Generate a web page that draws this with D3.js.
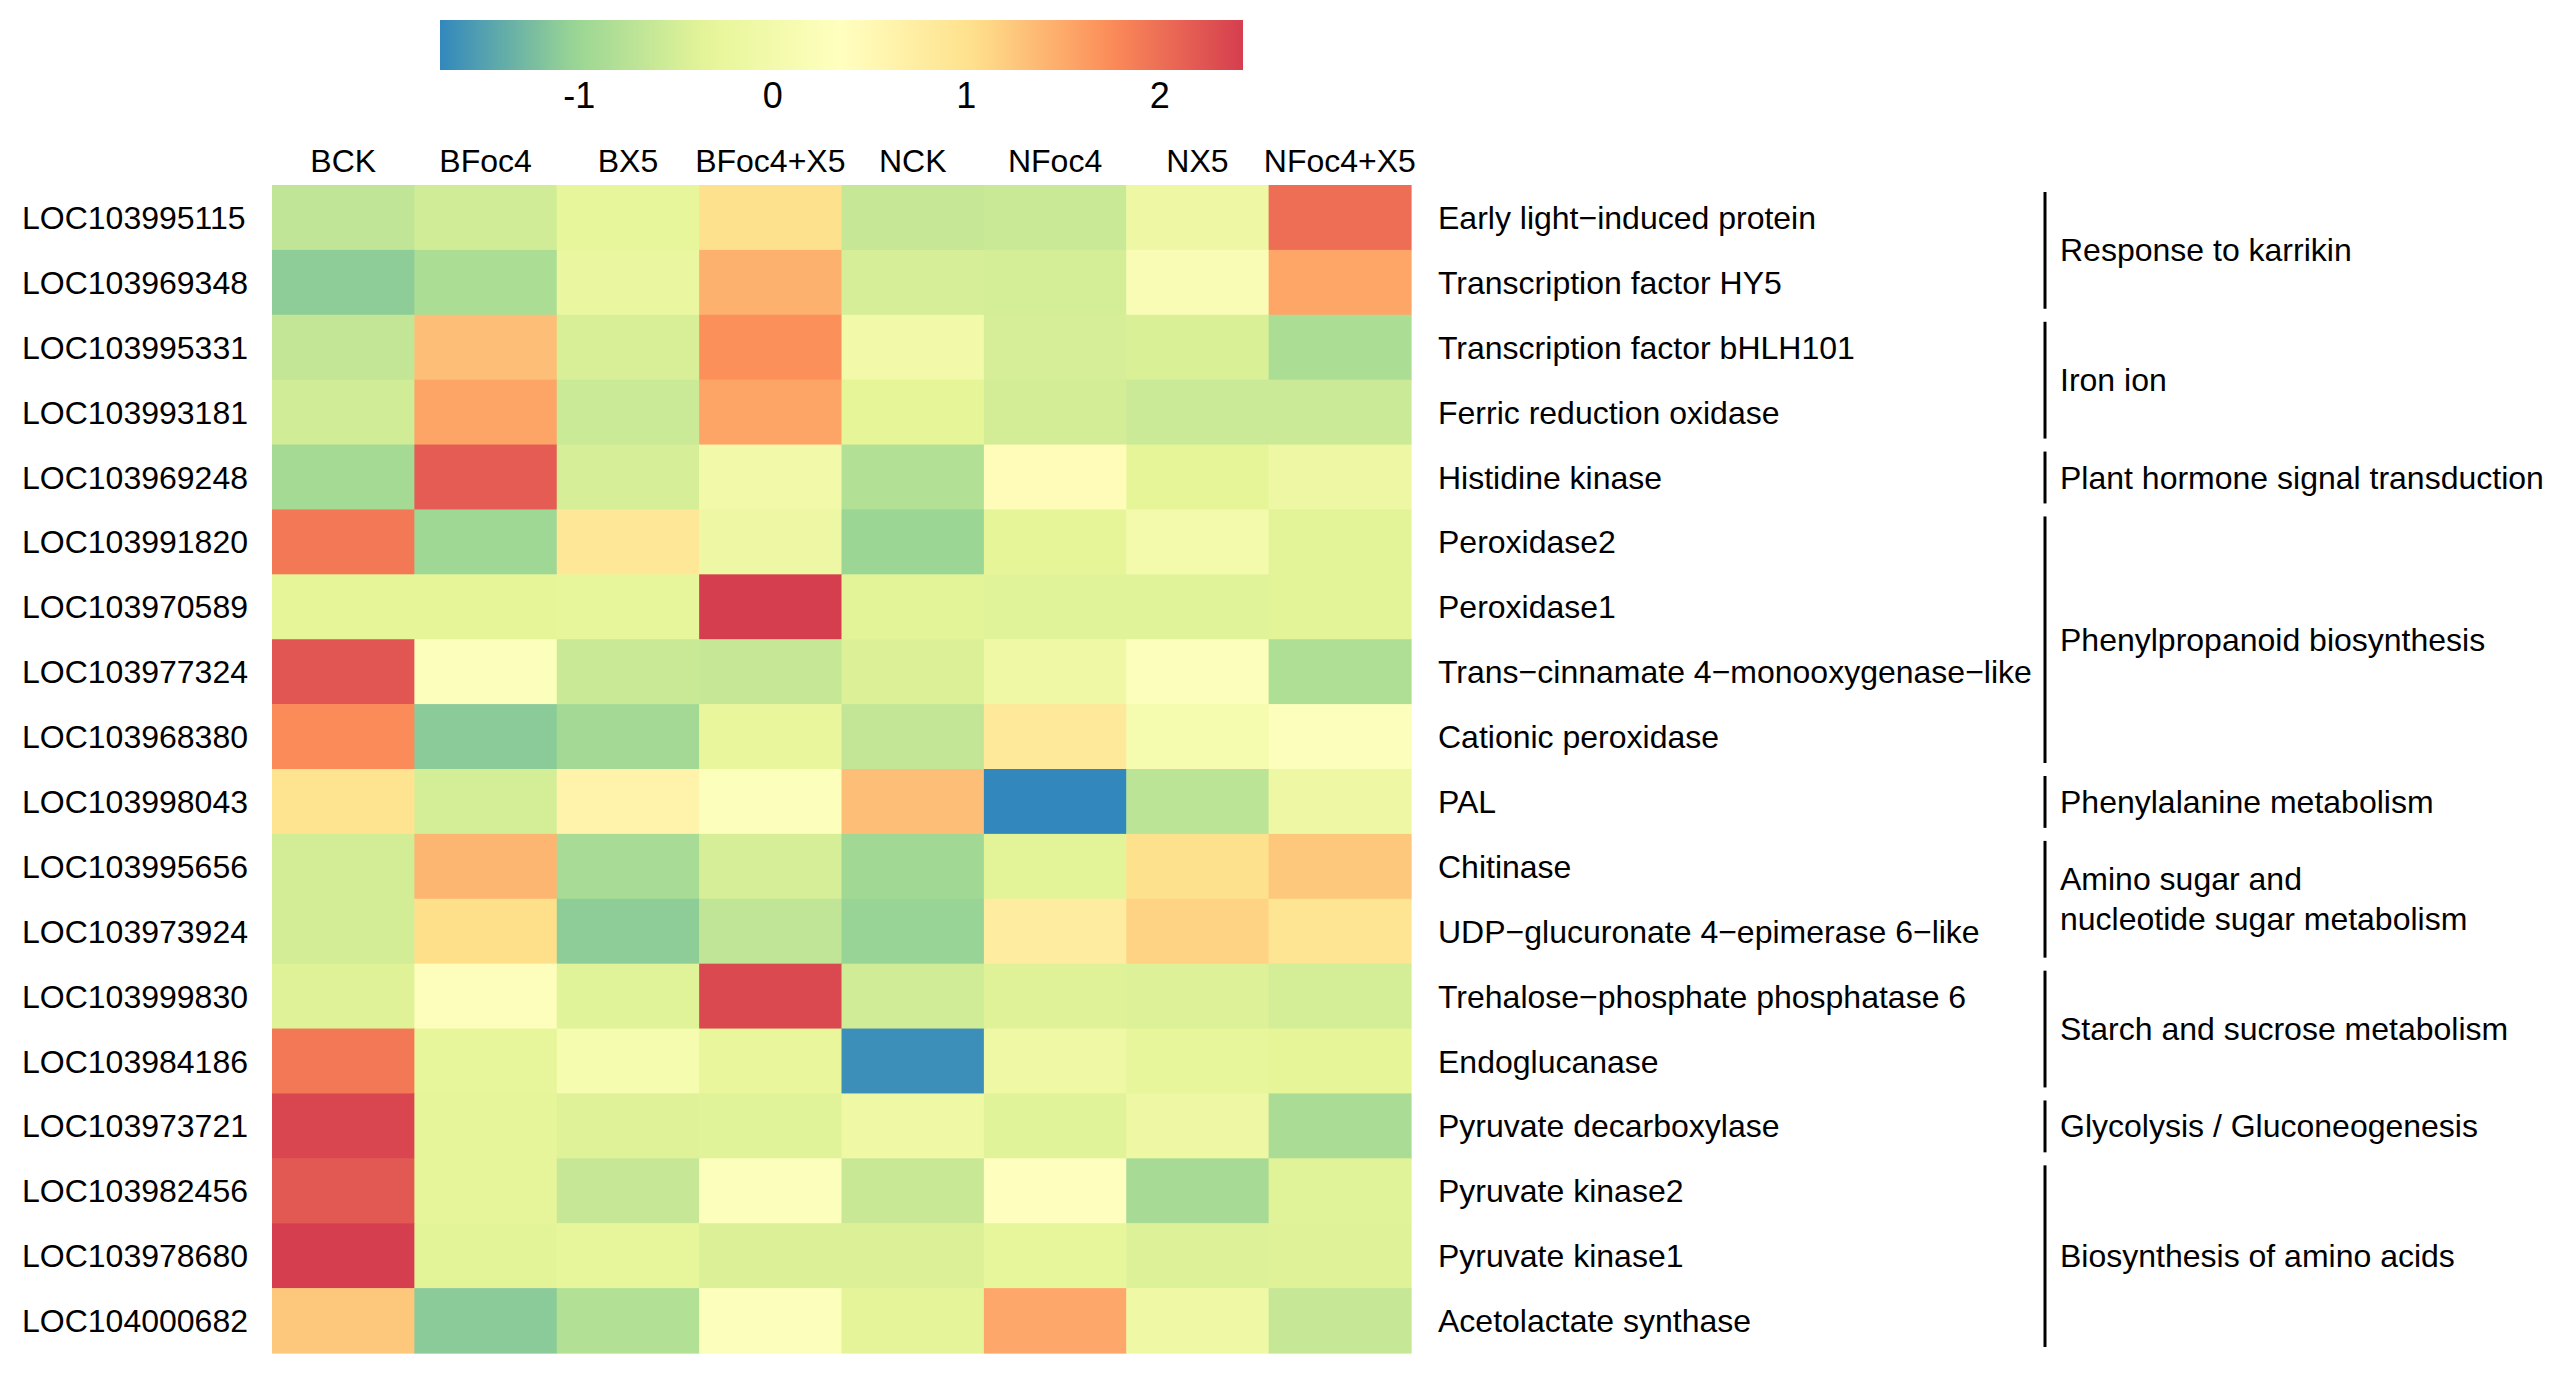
<!DOCTYPE html>
<html>
<head>
<meta charset="utf-8">
<script src="https://cdn.jsdelivr.net/npm/d3@7"></script>
<style>
  html, body { margin: 0; padding: 0; background: #ffffff; }
  svg { display: block; }
  text { font-family: "Liberation Sans", Arial, sans-serif; fill: #000; }
</style>
</head>
<body>
<script>
// ---------------- data ----------------
const conditions = ["BCK", "BFoc4", "BX5", "BFoc4+X5", "NCK", "NFoc4", "NX5", "NFoc4+X5"];

const geneIds = [
  "LOC103995115", "LOC103969348", "LOC103995331", "LOC103993181", "LOC103969248",
  "LOC103991820", "LOC103970589", "LOC103977324", "LOC103968380", "LOC103998043",
  "LOC103995656", "LOC103973924", "LOC103999830", "LOC103984186", "LOC103973721",
  "LOC103982456", "LOC103978680", "LOC104000682"
];

const geneNames = [
  "Early light\u2212induced protein", "Transcription factor HY5", "Transcription factor bHLH101",
  "Ferric reduction oxidase", "Histidine kinase", "Peroxidase2", "Peroxidase1",
  "Trans\u2212cinnamate 4\u2212monooxygenase\u2212like", "Cationic peroxidase", "PAL", "Chitinase",
  "UDP\u2212glucuronate 4\u2212epimerase 6\u2212like", "Trehalose\u2212phosphate phosphatase 6",
  "Endoglucanase", "Pyruvate decarboxylase", "Pyruvate kinase2", "Pyruvate kinase1",
  "Acetolactate synthase"
];

// row-scaled expression, one array per gene, in the order of `conditions`
const values = [
  [-0.68, -0.53, -0.30,  1.02, -0.63, -0.60, -0.12,  2.01],
  [-1.10, -0.86, -0.19,  1.44, -0.48, -0.50,  0.17,  1.53],
  [-0.66,  1.32, -0.46,  1.71, -0.01, -0.48, -0.45, -0.86],
  [-0.53,  1.55, -0.58,  1.55, -0.32, -0.51, -0.58, -0.58],
  [-0.92,  2.17, -0.48, -0.01, -0.80,  0.42, -0.32, -0.12],
  [ 1.92, -0.97,  0.89, -0.12, -1.00, -0.32,  0.01, -0.36],
  [-0.32, -0.32, -0.30,  2.43, -0.36, -0.38, -0.38, -0.36],
  [ 2.22,  0.28, -0.60, -0.63, -0.43, -0.10,  0.28, -0.83],
  [ 1.75, -1.12, -0.94, -0.26, -0.66,  0.85,  0.08,  0.28],
  [ 0.98, -0.50,  0.62,  0.28,  1.32, -1.72, -0.71, -0.12],
  [-0.51,  1.40, -0.89, -0.48, -0.96, -0.36,  1.02,  1.25],
  [-0.51,  1.05, -1.10, -0.68, -1.04,  0.75,  1.15,  0.93],
  [-0.40,  0.31, -0.38,  2.34, -0.53, -0.40, -0.42, -0.50],
  [ 1.92, -0.30,  0.08, -0.26, -1.66, -0.10, -0.30, -0.34],
  [ 2.36, -0.31, -0.40, -0.38, -0.10, -0.38, -0.12, -0.88],
  [ 2.20, -0.31, -0.63,  0.28, -0.61,  0.34, -0.90, -0.38],
  [ 2.43, -0.37, -0.30, -0.43, -0.43, -0.30, -0.42, -0.40],
  [ 1.25, -1.12, -0.80,  0.28, -0.35,  1.51, -0.10, -0.63]
];

const pathways = [
  ["Response to karrikin"],
  ["Iron ion"],
  ["Plant hormone signal transduction"],
  ["Phenylpropanoid biosynthesis"],
  ["Phenylalanine metabolism"],
  ["Amino sugar and", "nucleotide sugar metabolism"],
  ["Starch and sucrose metabolism"],
  ["Glycolysis / Gluconeogenesis"],
  ["Biosynthesis of amino acids"]
];
// first and last gene (index into geneIds) of each pathway
const pathwayRows = [[0, 1], [2, 3], [4, 4], [5, 8], [9, 9], [10, 11], [12, 13], [14, 14], [15, 17]];

const colorDomain = [-1.72, 2.43];
const legendTicks = [-1, 0, 1, 2];
const palette = ["#3288BD", "#99D594", "#E6F598", "#FFFFBF", "#FEE08B", "#FC8D59", "#D53E4F"];

// ---------------- drawing ----------------
const W = 2557, H = 1379;
const svg = d3.select("body").append("svg").attr("width", W).attr("height", H);

const x = d3.scaleBand().domain(conditions).range([272, 1411]);
const y = d3.scaleBand().domain(geneIds).range([185, 1353]);

const stops = d3.range(palette.length).map(i => colorDomain[0] + i * (colorDomain[1] - colorDomain[0]) / (palette.length - 1));
const color = d3.scaleLinear().domain(stops).range(palette).interpolate(d3.interpolateRgb).clamp(true);

// cells
const cells = [];
geneIds.forEach((g, i) => conditions.forEach((c, j) => cells.push({ g, c, v: values[i][j] })));
svg.append("g").selectAll("rect").data(cells).join("rect")
  .attr("x", d => x(d.c))
  .attr("y", d => y(d.g))
  .attr("width", x.bandwidth() + 0.6)
  .attr("height", y.bandwidth() + 0.6)
  .attr("fill", d => color(d.v));

// column labels
svg.append("g").selectAll("text").data(conditions).join("text")
  .attr("x", d => x(d) + x.bandwidth() / 2)
  .attr("y", 172)
  .attr("text-anchor", "middle")
  .attr("font-size", 32)
  .text(d => d);

// row labels (gene IDs)
svg.append("g").selectAll("text").data(geneIds).join("text")
  .attr("x", 22)
  .attr("y", d => y(d) + y.bandwidth() / 2)
  .attr("dy", "0.36em")
  .attr("font-size", 32)
  .text(d => d);

// gene names
svg.append("g").selectAll("text").data(geneIds).join("text")
  .attr("x", 1438)
  .attr("y", d => y(d) + y.bandwidth() / 2)
  .attr("dy", "0.36em")
  .attr("font-size", 32)
  .text((d, i) => geneNames[i]);

// pathway brackets
const pg = svg.append("g");
pathways.forEach((lines, k) => {
  const [a, b] = pathwayRows[k];
  const top = y(geneIds[a]), bot = y(geneIds[b]) + y.bandwidth();
  pg.append("line")
    .attr("x1", 2045).attr("x2", 2045)
    .attr("y1", top + 7).attr("y2", bot - 6)
    .attr("stroke", "#000").attr("stroke-width", 3);
  const mid = (top + bot) / 2;
  const t = pg.append("text")
    .attr("x", 2060)
    .attr("y", mid)
    .attr("font-size", 32);
  lines.forEach((ln, li) => {
    t.append("tspan")
      .attr("x", 2060)
      .attr("y", mid + (li - (lines.length - 1) / 2) * 40)
      .attr("dy", "0.36em")
      .text(ln);
  });
});

// colour legend
const lx = d3.scaleLinear().domain(colorDomain).range([440, 1243]);
const defs = svg.append("defs");
const grad = defs.append("linearGradient").attr("id", "cbar").attr("x1", "0%").attr("x2", "100%");
d3.range(0, 1.0001, 0.02).forEach(f => {
  grad.append("stop")
    .attr("offset", (f * 100) + "%")
    .attr("stop-color", color(colorDomain[0] + f * (colorDomain[1] - colorDomain[0])));
});
svg.append("rect")
  .attr("x", lx(colorDomain[0]))
  .attr("y", 20)
  .attr("width", lx(colorDomain[1]) - lx(colorDomain[0]))
  .attr("height", 50)
  .attr("fill", "url(#cbar)");

svg.append("g").selectAll("text").data(legendTicks).join("text")
  .attr("x", d => lx(d))
  .attr("y", 108)
  .attr("text-anchor", "middle")
  .attr("font-size", 36)
  .text(d => d < 0 ? "-" + Math.abs(d) : String(d));
</script>
</body>
</html>
